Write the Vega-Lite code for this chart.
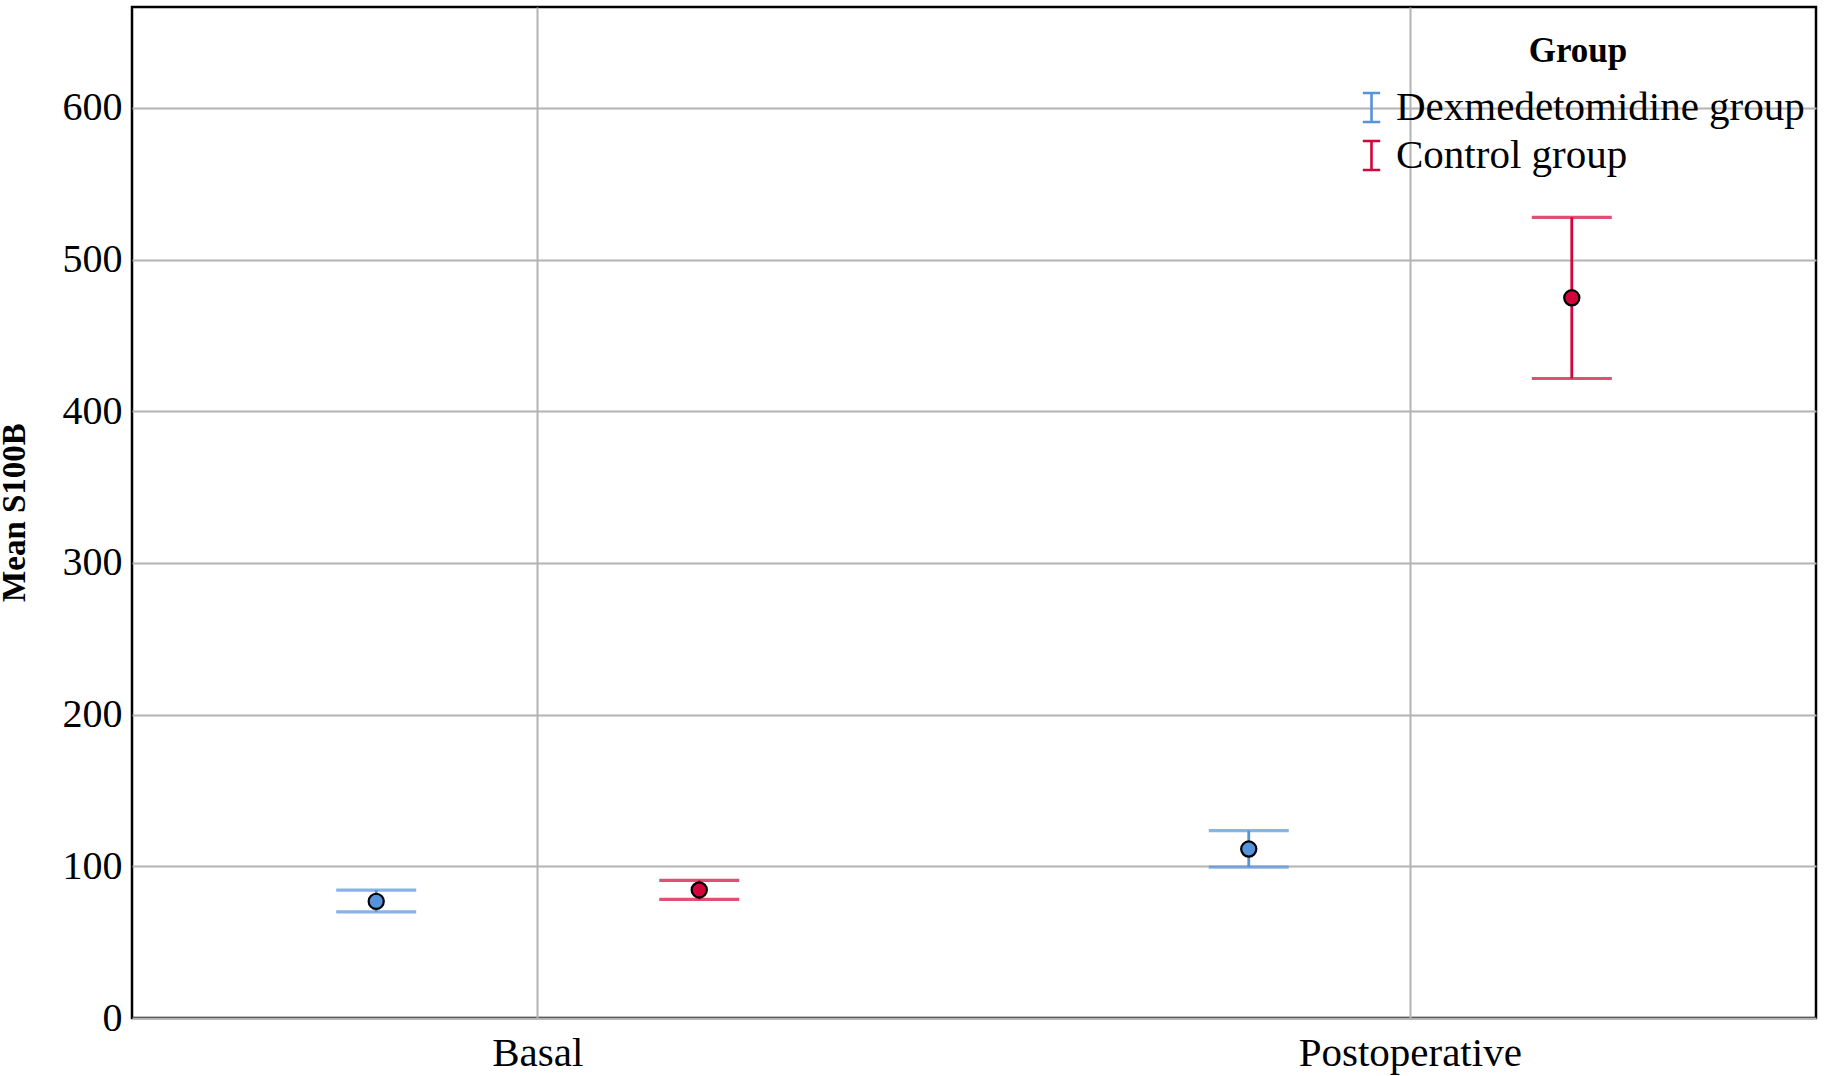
{
  "$schema": "https://vega.github.io/schema/vega-lite/v6.json",
  "width": 1684,
  "height": 1011,
  "autosize": "none",
  "padding": {"left": 132, "top": 7, "right": 8, "bottom": 58},
  "background": "white",
  "config": {
    "view": {"stroke": "black", "strokeWidth": 2.5},
    "font": "Liberation Serif"
  },
  "data": {
    "values": [
      {"time": "Basal", "group": "Dexmedetomidine group", "mean": 76.9, "lower": 70.0, "upper": 84.3},
      {"time": "Basal", "group": "Control group", "mean": 84.4, "lower": 78.2, "upper": 90.7},
      {"time": "Postoperative", "group": "Dexmedetomidine group", "mean": 111.4, "lower": 99.5, "upper": 123.5},
      {"time": "Postoperative", "group": "Control group", "mean": 474.8, "lower": 421.6, "upper": 527.8}
    ]
  },
  "encoding": {
    "x": {
      "field": "time",
      "type": "nominal",
      "scale": {"type": "band", "domain": ["Basal", "Postoperative"], "paddingInner": 0.1, "paddingOuter": 0.015},
      "axis": {
        "title": null,
        "labelAngle": 0,
        "labelFont": "Liberation Serif",
        "labelFontSize": 41,
        "labelColor": "black",
        "labelPadding": 15,
        "labelLimit": 0,
        "ticks": false,
        "domain": false,
        "grid": true,
        "gridColor": "#b4b4b4",
        "gridWidth": 2,
        "bandPosition": 0.5
      }
    },
    "xOffset": {
      "field": "group",
      "type": "nominal",
      "scale": {"type": "point", "domain": ["Dexmedetomidine group", "Control group"], "padding": 0.7155}
    }
  },
  "layer": [
    {
      "mark": {"type": "rule", "strokeWidth": 2.8},
      "encoding": {
        "y": {
          "field": "lower",
          "type": "quantitative",
          "scale": {"domain": [0, 666.5], "nice": false, "zero": true},
          "axis": {
            "title": "Mean S100B",
            "titleFont": "Liberation Serif",
            "titleFontSize": 33,
            "titleFontWeight": "bold",
            "titleColor": "black",
            "titleX": -118,
            "titleY": 505,
            "titleAngle": -90,
            "titleAlign": "center",
            "titleBaseline": "middle",
            "values": [0, 100, 200, 300, 400, 500, 600],
            "labelFont": "Liberation Serif",
            "labelFontSize": 40,
            "labelColor": "black",
            "labelPadding": 10,
            "ticks": false,
            "domain": false,
            "grid": true,
            "gridColor": "#b4b4b4",
            "gridWidth": 2
          }
        },
        "y2": {"field": "upper"},
        "color": {
          "field": "group",
          "type": "nominal",
          "scale": {"domain": ["Dexmedetomidine group", "Control group"], "range": ["#5593DB", "#D2063A"]},
          "legend": {
            "title": "Group",
            "orient": "none",
            "legendX": 1219,
            "legendY": 27,
            "direction": "vertical",
            "titleFont": "Liberation Serif",
            "titleFontSize": 35,
            "titleFontWeight": "bold",
            "titleColor": "black",
            "titleAnchor": "middle",
            "titlePadding": 18,
            "titleLimit": 0,
            "labelFont": "Liberation Serif",
            "labelFontSize": 41,
            "labelColor": "black",
            "labelOffset": 4,
            "labelLimit": 0,
            "rowPadding": 6,
            "symbolType": "M-0.6,-1H0.6M0,-1V1M-0.6,1H0.6",
            "symbolSize": 841,
            "symbolStrokeWidth": 2.6,
            "symbolFillColor": "transparent",
            "encode": {
              "symbols": {
                "update": {
                  "stroke": {"scale": "color", "field": "value"},
                  "fill": {"value": "transparent"}
                }
              }
            }
          }
        }
      }
    },
    {
      "mark": {"type": "tick", "size": 80, "thickness": 3.2},
      "encoding": {
        "y": {"field": "lower", "type": "quantitative"},
        "color": {"field": "group", "type": "nominal"}
      }
    },
    {
      "mark": {"type": "tick", "size": 80, "thickness": 3.2},
      "encoding": {
        "y": {"field": "upper", "type": "quantitative"},
        "color": {"field": "group", "type": "nominal"}
      }
    },
    {
      "mark": {"type": "point", "filled": true, "size": 230, "stroke": "black", "strokeWidth": 2.2, "opacity": 1, "shape": "circle"},
      "encoding": {
        "y": {"field": "mean", "type": "quantitative"},
        "fill": {
          "field": "group",
          "type": "nominal",
          "scale": {"domain": ["Dexmedetomidine group", "Control group"], "range": ["#5593DB", "#D2063A"]},
          "legend": null
        }
      }
    }
  ]
}
